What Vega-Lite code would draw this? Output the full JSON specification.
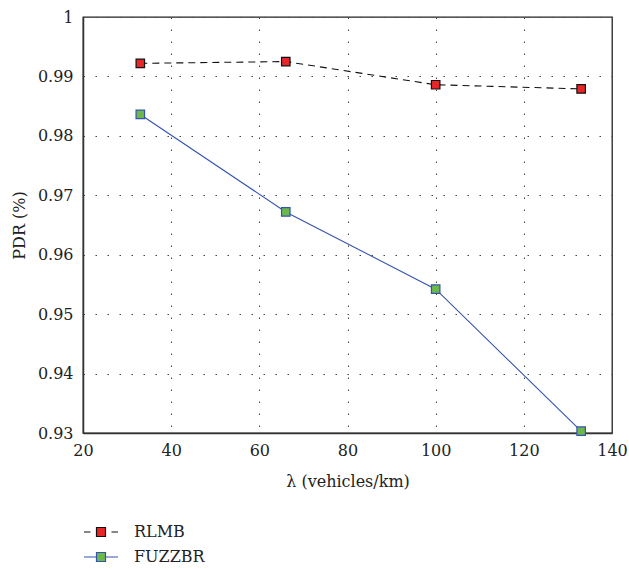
{
  "$schema": "https://vega.github.io/schema/vega-lite/v6.json",
  "width": 529,
  "height": 416,
  "autosize": {"type": "none"},
  "padding": {"left": 83, "top": 17, "right": 17, "bottom": 136},
  "background": "white",
  "config": {
    "font": "DejaVu Serif",
    "view": {"stroke": "#222", "strokeWidth": 1.3},
    "axis": {
      "labelFont": "DejaVu Serif",
      "titleFont": "DejaVu Serif",
      "labelFontSize": 16,
      "titleFontSize": 16,
      "titleFontWeight": "normal",
      "labelColor": "#222",
      "titleColor": "#222",
      "domainColor": "#333",
      "domainWidth": 1.5,
      "ticks": false,
      "labelFlush": false,
      "grid": true,
      "gridColor": "#444",
      "gridDash": [1.5, 10.5],
      "gridWidth": 1
    },
    "legend": {
      "labelFont": "DejaVu Serif",
      "labelFontSize": 16,
      "labelColor": "#222"
    }
  },
  "data": {
    "values": [
      {"series": "RLMB", "x": 33, "y": 0.9922},
      {"series": "RLMB", "x": 66, "y": 0.9925},
      {"series": "RLMB", "x": 100, "y": 0.9886},
      {"series": "RLMB", "x": 133, "y": 0.9879},
      {"series": "FUZZBR", "x": 33, "y": 0.9836},
      {"series": "FUZZBR", "x": 66, "y": 0.9672},
      {"series": "FUZZBR", "x": 100, "y": 0.9542},
      {"series": "FUZZBR", "x": 133, "y": 0.9303}
    ]
  },
  "encoding": {
    "x": {
      "field": "x", "type": "quantitative",
      "scale": {"domain": [20, 140], "nice": false, "zero": false},
      "axis": {"values": [20, 40, 60, 80, 100, 120, 140], "title": "λ (vehicles/km)", "labelPadding": 9, "titlePadding": 15}
    },
    "y": {
      "field": "y", "type": "quantitative",
      "scale": {"domain": [0.93, 1], "nice": false, "zero": false},
      "axis": {"values": [0.93, 0.94, 0.95, 0.96, 0.97, 0.98, 0.99, 1], "format": ".2~f", "title": "PDR (%)", "labelPadding": 10, "titlePadding": 10}
    }
  },
  "layer": [
    {
      "transform": [{"filter": "datum.series == 'RLMB'"}],
      "mark": {"type": "line", "strokeWidth": 1.1, "color": "#111111", "strokeDash": [7, 5]},
      "encoding": {}
    },
    {
      "transform": [{"filter": "datum.series == 'FUZZBR'"}],
      "mark": {"type": "line", "strokeWidth": 1.1, "color": "#3554b0"},
      "encoding": {}
    },
    {
      "mark": {"type": "point", "shape": "square", "filled": true, "size": 72, "opacity": 1, "strokeWidth": 1.2},
      "encoding": {
        "fill": {"field": "series", "type": "nominal", "scale": {"domain": ["RLMB", "FUZZBR"], "range": ["#e8262a", "#6cb84a"]}, "legend": {"title": null, "orient": "none", "legendX": 7, "legendY": 504, "padding": 0, "rowPadding": 6, "labelOffset": 22, "symbolSize": 400, "symbolStrokeWidth": 1.2}},
        "stroke": {"field": "series", "type": "nominal", "scale": {"domain": ["RLMB", "FUZZBR"], "range": ["#111111", "#3554b0"]}, "legend": {"title": null, "orient": "none", "legendX": 7, "legendY": 504, "padding": 0, "rowPadding": 6, "labelOffset": 22, "symbolSize": 400, "symbolStrokeWidth": 1.2}}
      }
    },
    {
      "mark": {"type": "point", "filled": true, "size": 0},
      "encoding": {
        "shape": {"field": "series", "type": "nominal", "scale": {"domain": ["RLMB", "FUZZBR"], "range": ["M-1.7,0H-1.05M-0.45,-0.45H0.45V0.45H-0.45ZM1.05,0H1.7", "M-1.7,0H-0.45M-0.45,-0.45H0.45V0.45H-0.45ZM0.45,0H1.7"]}, "legend": {"title": null, "orient": "none", "legendX": 7, "legendY": 504, "padding": 0, "rowPadding": 6, "labelOffset": 22, "symbolSize": 400, "symbolStrokeWidth": 1.2}},
        "fill": {"field": "series", "type": "nominal"},
        "stroke": {"field": "series", "type": "nominal"}
      }
    }
  ]
}
